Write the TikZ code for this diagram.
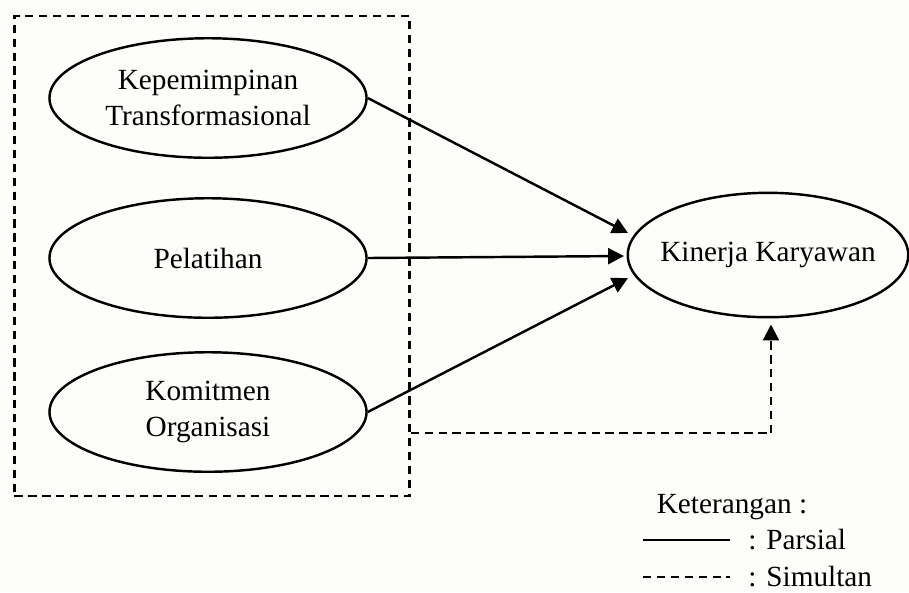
\documentclass[tikz,border=0pt]{standalone}
\usepackage{fontspec}
\setmainfont{Liberation Serif}
\usetikzlibrary{shapes}
\usetikzlibrary{arrows.meta}

\begin{document}
\begin{tikzpicture}[x=0.41pt, y=-0.41pt,
  var/.style={draw, ellipse, line width=1pt, inner sep=0pt, align=center,
    minimum width=130pt, minimum height=49pt},
  parsial/.style={line width=1pt, -{Triangle[length=6.5pt,width=6.5pt]}},
  simul/.style={line width=1pt, dash pattern=on 3.4pt off 2.3pt},
  >=stealth, font=\fontsize{12}{14.4}\selectfont]

\useasboundingbox[fill={rgb,255:red,253;green,253;blue,249}] (0,0) rectangle (909,592);

\node[var] (kep) at (208,98) {Kepemimpinan\\Transformasional};
\node[var] (pel) at (208,258) {Pelatihan};
\node[var] (kom) at (208,412) {Komitmen\\Organisasi};
\node[var, inner xsep=-8pt, minimum width=115pt, minimum height=51pt] (kin) at (768,255) {Kinerja Karyawan};
\node[simul, draw, minimum width=162pt, minimum height=196.8pt] (box) at (212,256) {};

\coordinate (t1) at (628,233);
\coordinate (t2) at (624,256);
\coordinate (t3) at (628,278);
\coordinate (sim) at (771,433);

\draw[parsial] (kep.east) -- (t1);
\draw[parsial] (pel.east) -- (t2);
\draw[parsial] (kom.east) -- (t3);
\draw[simul] (box.east |- sim) -- (sim);
\draw[simul, -{Triangle[length=6.5pt,width=6.5pt]}] (sim) -- ([yshift=-2.5pt]kin.south -| sim);

% keterangan
\node (ket) at (732,507) {Keterangan :};
\node[anchor=west, inner sep=0pt] (par) at (748,540) {: Parsial};
\node[anchor=west, inner sep=0pt] (sml) at (748,577) {: Simultan};
\draw[line width=1pt] (643,540) -- (730,540);
\draw[simul] (643,577) -- (730,577);
\end{tikzpicture}
\end{document}
